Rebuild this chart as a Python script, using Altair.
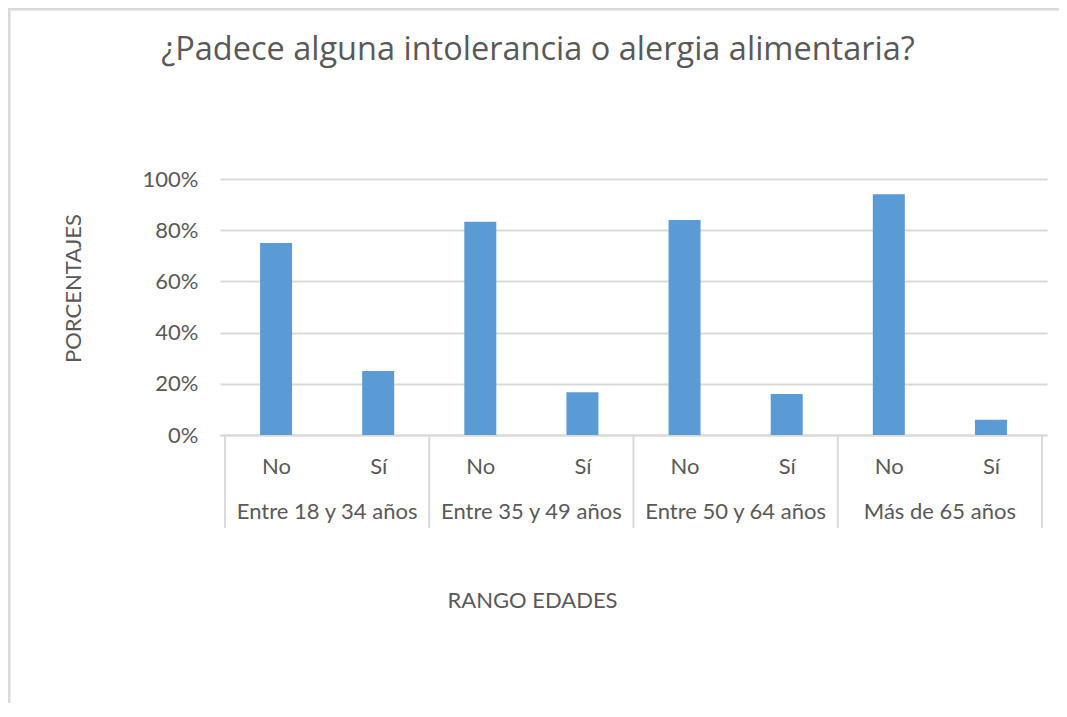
import altair as alt
import pandas as pd

# ---- data ----
title_text = "¿Padece alguna intolerancia o alergia alimentaria?"
groups = ["Entre 18 y 34 años", "Entre 35 y 49 años", "Entre 50 y 64 años", "Más de 65 años"]
answers = ["No", "Sí"]
pct_no = [0.75, 0.833, 0.84, 0.94]
pct_si = [0.25, 0.167, 0.16, 0.06]
y_ticks = [0, 0.2, 0.4, 0.6, 0.8, 1.0]

FONT = "Lato"
TITLE_FONT = "Open Sans"
TXT = "#595959"
GRID = "#D9D9D9"
BAR = "#5B9BD5"
FS = 22

rows = []
for i, g in enumerate(groups):
    for j, (a, v) in enumerate(zip(answers, [pct_no[i], pct_si[i]])):
        rows.append({"grupo": g, "respuesta": a, "pos": 2 * i + j, "pct": v})
df = pd.DataFrame(rows)
grp_df = pd.DataFrame({"grupo": groups, "centro": [2 * i + 0.5 for i in range(len(groups))]})
sep_df = pd.DataFrame({"borde": [2 * i - 0.5 for i in range(len(groups) + 1)]})
one = pd.DataFrame({"titulo": [title_text]})

W, H = 827, 256
xscale = alt.Scale(domain=[-0.5, 2 * len(groups) - 0.5], nice=False, zero=False)

bars = alt.Chart(df).mark_bar(size=32, color=BAR).encode(
    x=alt.X(
        "pos:Q",
        scale=xscale,
        axis=alt.Axis(
            values=list(range(2 * len(groups))),
            labelExpr="datum.value % 2 == 0 ? 'No' : 'Sí'",
            grid=False,
            ticks=False,
            tickSize=0,
            domainColor=GRID,
            domainWidth=2,
            labelPadding=21,
            labelFontSize=FS,
            labelColor=TXT,
            labelFont=FONT,
            title="RANGO EDADES",
            titleFont=FONT,
            titleFontSize=FS,
            titleFontWeight="normal",
            titleColor=TXT,
            titleX=312,
            titleY=165,
            titleAlign="center",
            titleBaseline="middle",
        ),
    ),
    y=alt.Y(
        "pct:Q",
        scale=alt.Scale(domain=[0, 1], nice=False),
        axis=alt.Axis(
            values=y_ticks,
            format=".0%",
            grid=True,
            gridColor=GRID,
            gridWidth=2,
            domain=False,
            ticks=False,
            tickSize=0,
            labelPadding=22,
            labelFontSize=FS,
            labelColor=TXT,
            labelFont=FONT,
            title="PORCENTAJES",
            titleFont=FONT,
            titleFontSize=FS,
            titleFontWeight="normal",
            titleColor=TXT,
            titleAngle=270,
            titleX=-147,
            titleY=109,
            titleAlign="center",
            titleBaseline="middle",
        ),
    ),
)

seps = alt.Chart(sep_df).mark_rule(color=GRID, strokeWidth=2).encode(
    x=alt.X("borde:Q", scale=xscale),
    y=alt.value(H),
    y2=alt.value(H + 93),
)

grp_text = alt.Chart(grp_df).mark_text(
    font=FONT, fontSize=FS, color=TXT, baseline="middle", align="center"
).encode(
    x=alt.X("centro:Q", scale=xscale),
    y=alt.value(H + 77),
    text="grupo:N",
)

title_mark = alt.Chart(one).mark_text(
    font=TITLE_FONT, fontSize=32.5, color=TXT, baseline="middle", align="center"
).encode(
    x=alt.value(318),
    y=alt.value(-129),
    text="titulo:N",
)

frame_top = alt.Chart(one).mark_rule(color=GRID, strokeWidth=3).encode(
    x=alt.value(-212), x2=alt.value(W + 12), y=alt.value(-170)
)
frame_left = alt.Chart(one).mark_rule(color=GRID, strokeWidth=3).encode(
    x=alt.value(-211), y=alt.value(-171), y2=alt.value(H + 600)
)

chart = (
    alt.layer(frame_top, frame_left, bars, seps, grp_text, title_mark)
    .properties(
        width=W,
        height=H,
        autosize=alt.AutoSizeParams(type="none"),
        padding={"left": 212, "top": 171, "right": 12, "bottom": 268},
    )
    .configure_view(strokeWidth=0)
)

chart.save("out.html", embed_options={"renderer": "svg", "actions": False})
